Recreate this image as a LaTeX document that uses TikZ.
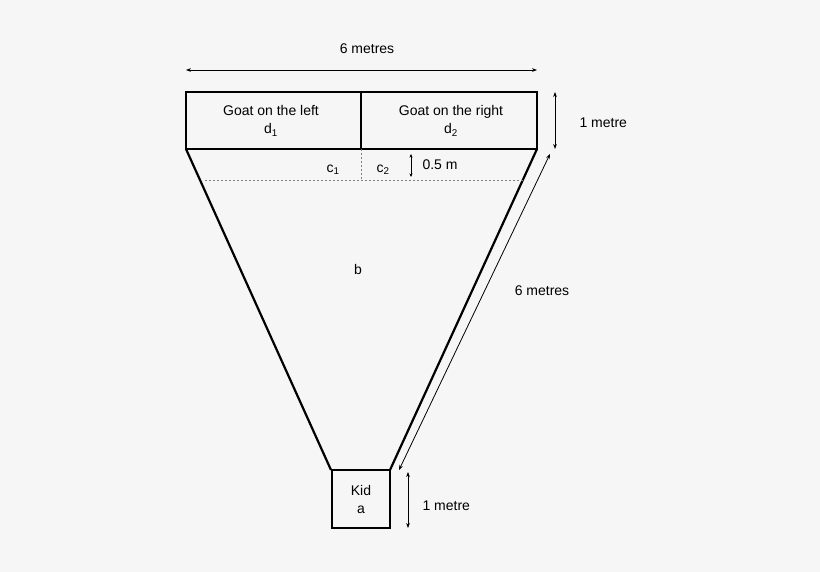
\documentclass[tikz,border=0pt]{standalone}
\usepackage{fontspec}
\setmainfont{Liberation Sans}
\usetikzlibrary{arrows.meta}
\begin{document}
\begin{tikzpicture}[x=1pt, y=-1pt, font=\fontsize{14}{18}\selectfont,
	wall/.style={line width=2.2pt, line join=miter},
	measure/.style={{Stealth[length=5pt]}-{Stealth[length=5pt]}, line width=0.8pt},
	small measure/.style={{Stealth[length=3.5pt,width=3pt]}-{Stealth[length=3.5pt,width=3pt]}, line width=0.7pt},
	guide/.style={gray, line width=0.6pt, dash pattern=on 2pt off 2pt},
	label/.style={align=center, inner sep=1pt}]

	% Background
	\fill[gray!7] (0,0) rectangle (820,572);
	\useasboundingbox (0,0) rectangle (820,572);

	% Corners
	\coordinate (tl) at (186,92);
	\coordinate (ml) at (186,149);
	\coordinate (mr) at (537,149);
	\coordinate (bl) at (331,470);
	\coordinate (br) at (390,470);

	% Goats
	\draw[wall] (tl) rectangle (mr);
	\draw[wall] (361,92) -- (361,149);
	\node[label] (left) at (271,121) {Goat on the left\\d\textsubscript{1}};
	\node[label] (right) at (451,121) {Goat on the right\\d\textsubscript{2}};

	% Funnel
	\draw[wall] (ml) -- (bl);
	\draw[wall] (mr) -- (br);

	% Kid
	\draw[wall] (332,470) rectangle (390,528);
	\node[label] (kid) at (361,499) {Kid\\a};

	% Dotted split
	\draw[guide] (205,180) -- (523,180);
	\draw[guide] (361,149) -- (361,180);
	\node (c1) at (333,170) {c\textsubscript{1}};
	\node (c2) at (383,170) {c\textsubscript{2}};
	\draw[small measure] (411,154) -- (411,177);
	\node[anchor=west] (half) at (419,165) {0.5 m};
	\node (b) at (358,269) {b};

	% Dimensions
	\draw[measure] (186,70) -- (537,70);
	\node (top) at (367,49) {6 metres};
	\draw[measure] (555,92) -- (555,149);
	\node[anchor=west] (side) at (576,123) {1 metre};
	\draw[measure] (550,154) -- (399,470);
	\node (diag) at (542,291) {6 metres};
	\draw[measure] (408,472) -- (408,528);
	\node[anchor=west] (kidside) at (419,506) {1 metre};

\end{tikzpicture}
\end{document}
